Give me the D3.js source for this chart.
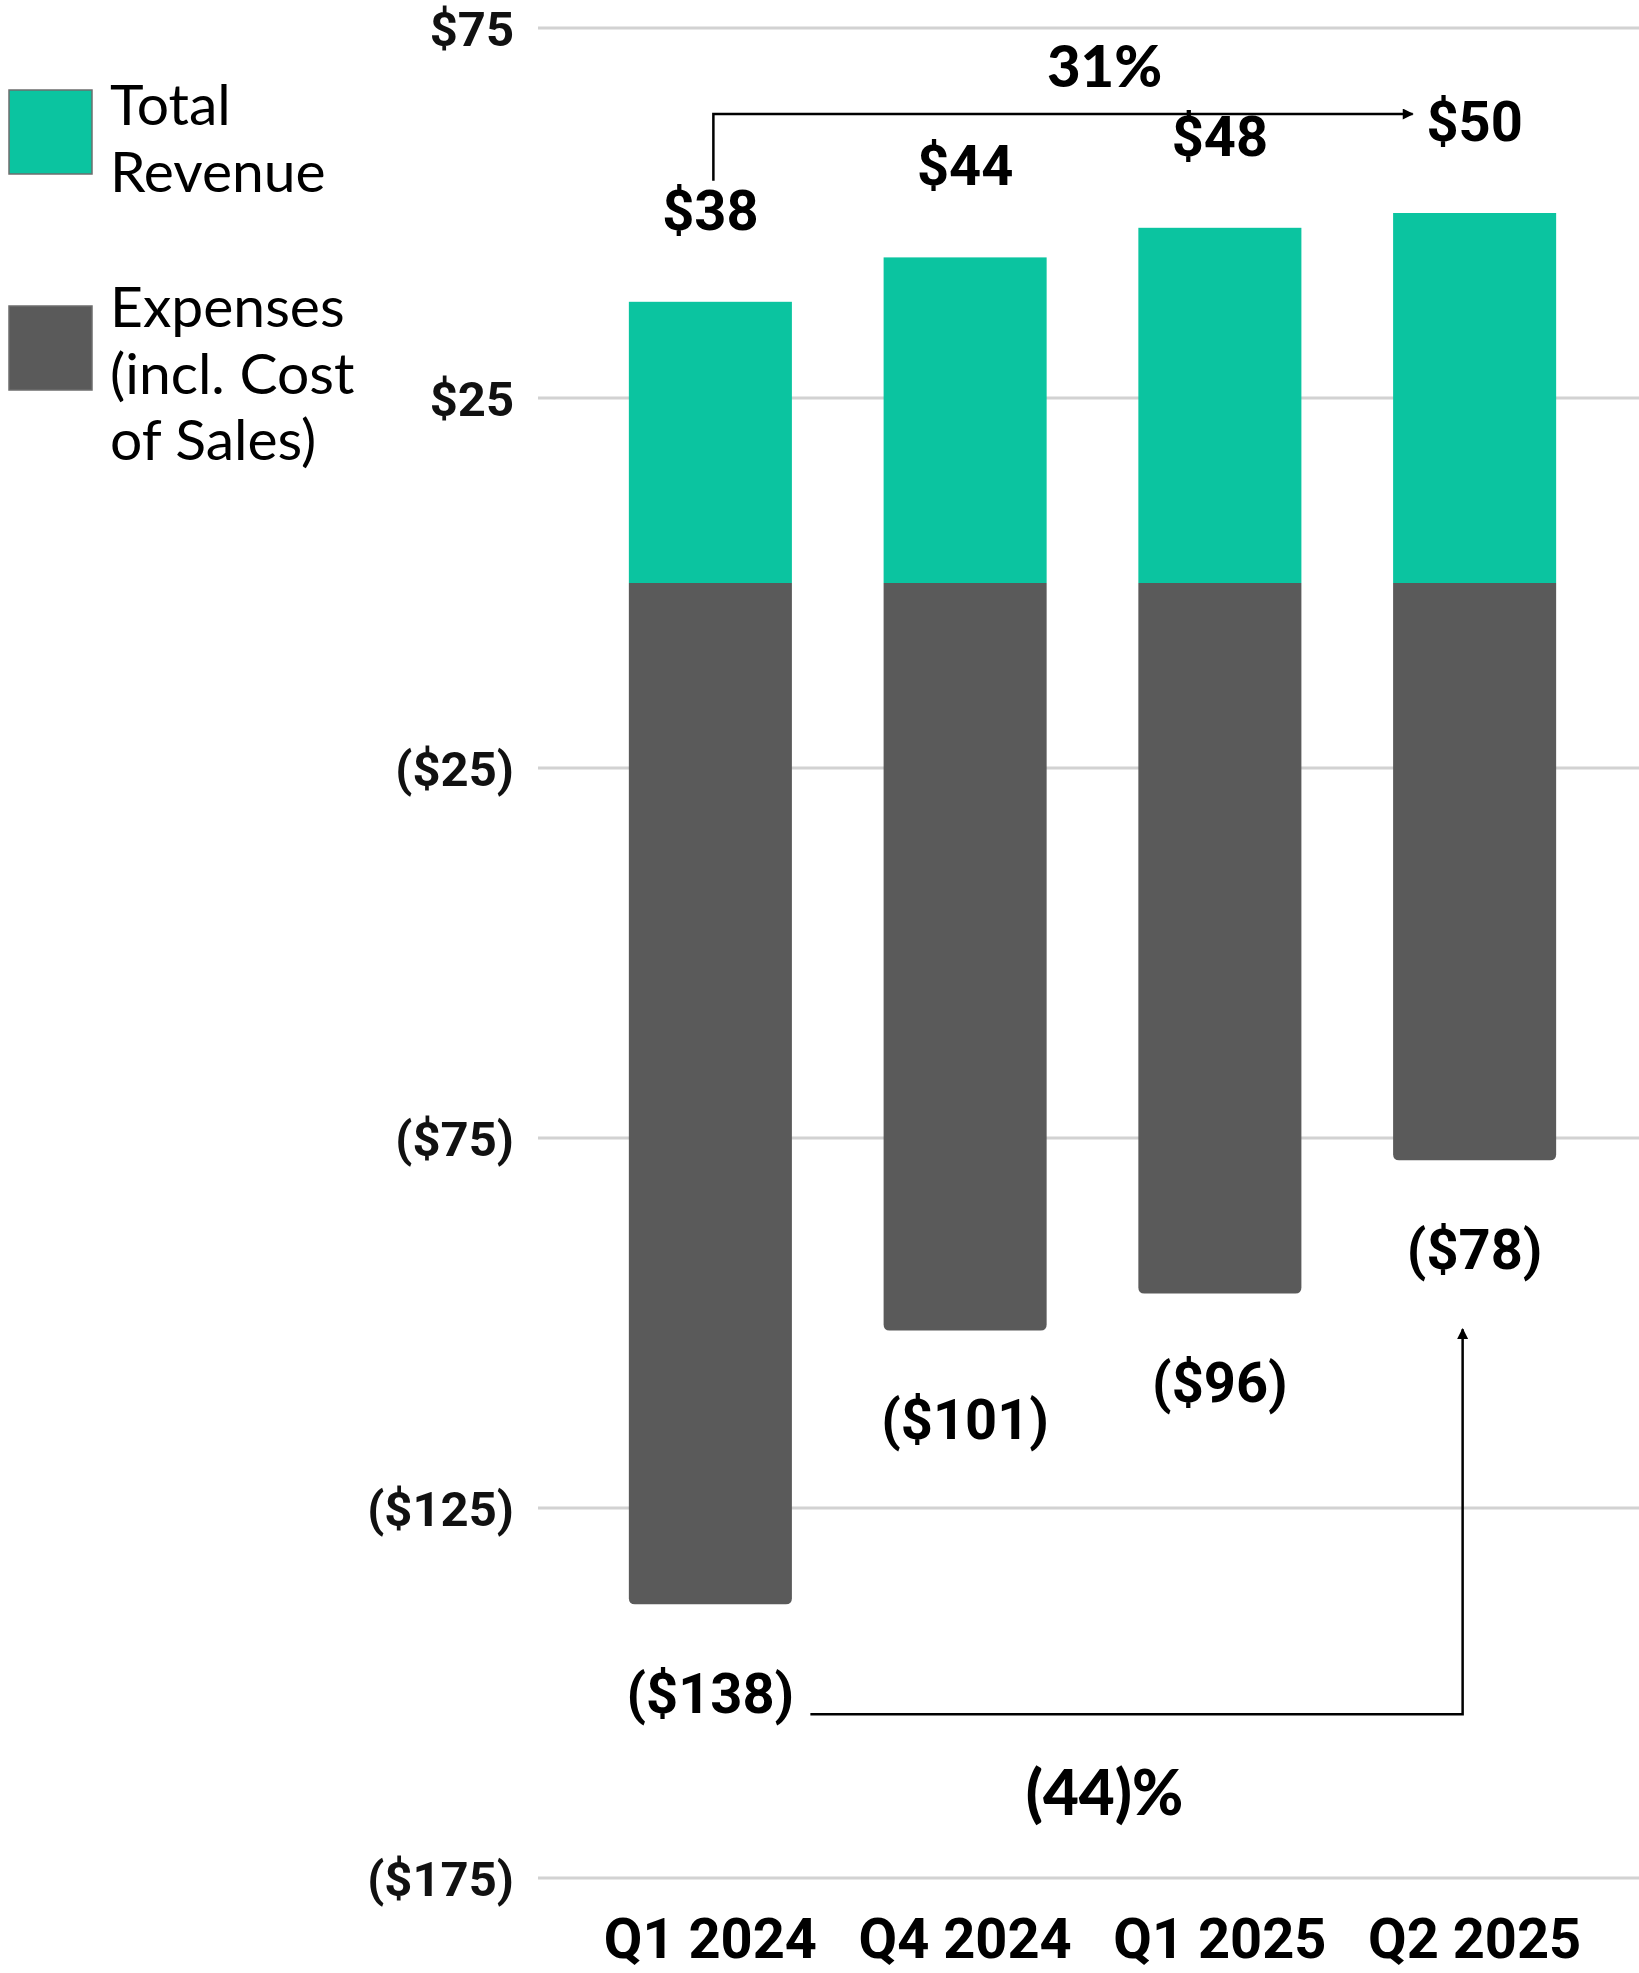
<!DOCTYPE html>
<html>
<head>
<meta charset="utf-8">
<script src="https://cdn.jsdelivr.net/npm/d3@7/dist/d3.min.js"></script>
<style>
  html, body { margin: 0; padding: 0; background: #fff; }
  svg { display: block; }
</style>
</head>
<body>
<svg id="chart" width="1639" height="1973"></svg>
<script>
// Quarterly revenue vs. expenses ($M)
const categories = ["Q1 2024", "Q4 2024", "Q1 2025", "Q2 2025"];
const revenue = [38, 44, 48, 50];
const expenses = [-138, -101, -96, -78];
const yTicks = [75, 25, -25, -75, -125, -175];
const revenueChangeLabel = "31%";
const expenseChangeLabel = "(44)%";
const legendItems = [
  { lines: ["Total", "Revenue"], color: "#0BC4A0" },
  { lines: ["Expenses", "(incl. Cost", "of Sales)"], color: "#5A5A5A" }
];

const W = 1639, H = 1973;
const TEAL = "#0BC4A0", GREY = "#5A5A5A";
const svg = d3.select("#chart");

const y = d3.scaleLinear().domain([-175, 75]).range([1878, 28]);
const x = d3.scaleBand().domain(categories).range([583, 1602])
  .paddingInner(0.36).paddingOuter(0.18);
const bw = x.bandwidth();
const cx = c => x(c) + bw / 2;

const money = v => v >= 0 ? `$${v}` : `($${-v})`;

// gridlines
const gridLeft = 538;
svg.append("g").selectAll("line").data(yTicks).join("line")
  .attr("x1", gridLeft).attr("x2", W)
  .attr("y1", d => y(d)).attr("y2", d => y(d))
  .attr("stroke", "#d2d2d2").attr("stroke-width", 3);

// y axis labels
const yAxis = d3.axisLeft(y).tickValues(yTicks).tickFormat(money)
  .tickSize(0).tickPadding(24);
const yg = svg.append("g").attr("transform", `translate(${gridLeft},0)`).call(yAxis);
yg.select(".domain").remove();
yg.selectAll("text")
  .attr("font-family", "Roboto, sans-serif").attr("font-weight", 700)
  .attr("font-size", 49).attr("fill", "#111").attr("dy", "0.36em");

// revenue bars
svg.append("g").selectAll("rect").data(categories).join("rect")
  .attr("x", d => x(d)).attr("width", bw)
  .attr("y", (d, i) => y(revenue[i]))
  .attr("height", (d, i) => y(0) - y(revenue[i]))
  .attr("fill", TEAL);

// expense bars with rounded bottom corners
function bottomRounded(x0, y0, w, h, r) {
  return `M${x0},${y0}H${x0 + w}V${y0 + h - r}Q${x0 + w},${y0 + h} ${x0 + w - r},${y0 + h}` +
         `H${x0 + r}Q${x0},${y0 + h} ${x0},${y0 + h - r}Z`;
}
svg.append("g").selectAll("path").data(categories).join("path")
  .attr("d", (d, i) => bottomRounded(x(d), y(0), bw, y(expenses[i]) - y(0), 6))
  .attr("fill", GREY);

// value labels
const valueFont = sel => sel.attr("font-family", "Roboto, sans-serif")
  .attr("font-weight", 700).attr("font-size", 56).attr("fill", "#000")
  .attr("text-anchor", "middle");
svg.append("g").selectAll("text").data(categories).join("text")
  .attr("x", d => cx(d)).attr("y", (d, i) => y(revenue[i]) - 72)
  .text((d, i) => money(revenue[i])).call(valueFont);
svg.append("g").selectAll("text").data(categories).join("text")
  .attr("x", d => cx(d)).attr("y", (d, i) => y(expenses[i]) + 109)
  .text((d, i) => money(expenses[i])).call(valueFont);

// category axis
const xAxis = d3.axisBottom(x).tickSize(0).tickPadding(0);
const xg = svg.append("g").attr("transform", "translate(0,1958)").call(xAxis);
xg.select(".domain").remove();
xg.selectAll("text")
  .attr("font-family", "Roboto, sans-serif").attr("font-weight", 700)
  .attr("font-size", 56).attr("fill", "#000").attr("dy", 0);

// arrow markers
const defs = svg.append("defs");
defs.append("marker").attr("id", "arrow").attr("viewBox", "0 0 10 10")
  .attr("refX", 9).attr("refY", 5).attr("markerUnits", "userSpaceOnUse")
  .attr("markerWidth", 13).attr("markerHeight", 11).attr("orient", "auto")
  .append("path").attr("d", "M0,0L10,5L0,10Z").attr("fill", "#000");

// revenue change annotation
const i0 = 0, i3 = categories.length - 1;
const topY = y(d3.max(revenue)) - 99;
svg.append("path")
  .attr("d", `M${cx(categories[i0]) + 3},${y(revenue[i0]) - 121}V${topY}H${cx(categories[i3]) - 62}`)
  .attr("fill", "none").attr("stroke", "#000").attr("stroke-width", 2.5)
  .attr("marker-end", "url(#arrow)");
svg.append("text")
  .attr("x", (cx(categories[i0]) + cx(categories[i3])) / 2 + 12).attr("y", 87)
  .attr("text-anchor", "middle").attr("font-family", "Lato, sans-serif")
  .attr("font-weight", 900).attr("font-size", 58).attr("fill", "#000")
  .text(revenueChangeLabel);

// expense change annotation
const botY = y(d3.min(expenses)) + 110;
svg.append("path")
  .attr("d", `M${cx(categories[i0]) + 100},${botY}H${cx(categories[i3]) - 12}V${y(expenses[i3]) + 169}`)
  .attr("fill", "none").attr("stroke", "#000").attr("stroke-width", 2.5)
  .attr("marker-end", "url(#arrow)");
svg.append("text")
  .attr("x", (cx(categories[i0]) + cx(categories[i3])) / 2 + 12).attr("y", 1815)
  .attr("text-anchor", "middle").attr("font-family", "Lato, sans-serif")
  .attr("font-weight", 900).attr("font-size", 62).attr("fill", "#000")
  .text(expenseChangeLabel);

// legend
const legendTops = [90, 306];
const legend = svg.append("g");
legendItems.forEach((item, k) => {
  const g = legend.append("g");
  g.append("rect").attr("x", 9).attr("y", legendTops[k]).attr("width", 83).attr("height", 84)
    .attr("fill", item.color).attr("stroke", "#6e6e6e").attr("stroke-width", 1.5);
  const firstBaseline = k === 0 ? 125 : 327;
  g.selectAll("text").data(item.lines).join("text")
    .attr("x", 110).attr("y", (d, j) => firstBaseline + j * 66.5)
    .attr("font-family", "Lato, sans-serif").attr("font-size", 57)
    .attr("fill", "#000").text(d => d);
});
</script>
</body>
</html>
